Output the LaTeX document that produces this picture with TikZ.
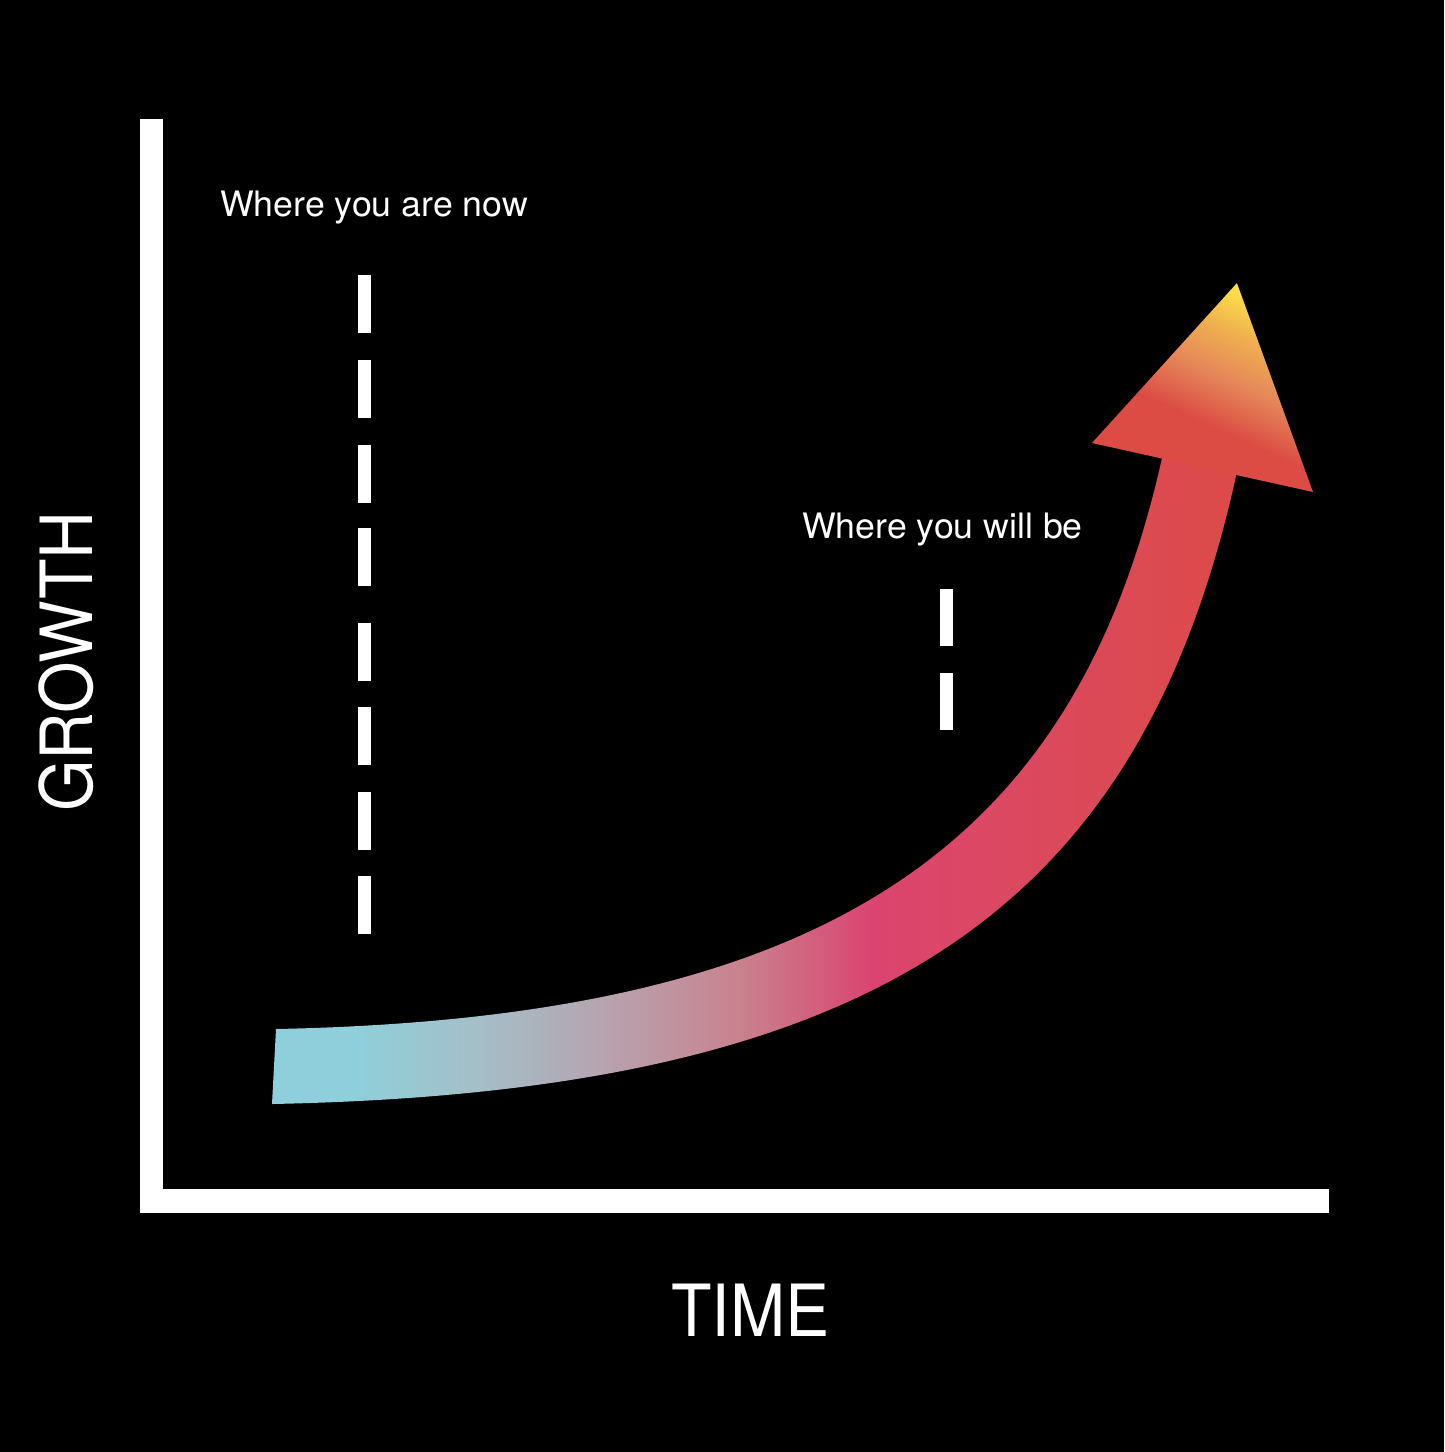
\documentclass[tikz,border=0pt]{standalone}
\usepackage{fontspec}
\setmainfont{TeX Gyre Heros}
\usepackage{graphicx}
\usepackage{tikz}
\definecolor{growCyan}{HTML}{8ECFDB}
\definecolor{growCyanGray}{HTML}{A4BFC8}
\definecolor{growGray}{HTML}{B6A4B0}
\definecolor{growRose}{HTML}{C8838F}
\definecolor{growMagenta}{HTML}{DB4470}
\definecolor{growPink}{HTML}{DB4862}
\definecolor{growRed}{HTML}{DC4B48}
\definecolor{headRed}{HTML}{DC4C44}
\definecolor{headOrange}{HTML}{E6885A}
\definecolor{headAmber}{HTML}{EFAE50}
\definecolor{headYellow}{HTML}{FBDD4A}
\pgfdeclarehorizontalshading{shaftshade}{100bp}{%
  color(0bp)=(growCyan); color(25bp)=(growCyan); color(29bp)=(growCyan);
  color(35.5bp)=(growCyanGray); color(42bp)=(growGray);
  color(49bp)=(growRose); color(56bp)=(growMagenta);
  color(62.5bp)=(growPink); color(75bp)=(growRed); color(100bp)=(growRed)}
\pgfdeclareverticalshading{headshade}{100bp}{%
  color(0bp)=(headRed); color(25bp)=(headRed); color(37bp)=(headRed);
  color(50bp)=(headOrange); color(61bp)=(headAmber);
  color(71bp)=(headYellow); color(100bp)=(headYellow)}
\tikzset{
  axis bar/.style={fill=white},
  guide dash/.style={fill=white},
  note label/.style={text=white, inner sep=0pt,
    font=\fontsize{35}{40}\selectfont},
  axis title/.style={text=white, inner sep=0pt,
    font=\fontsize{72}{80}\selectfont}
}

\begin{document}
\begin{tikzpicture}[x=1pt, y=-1pt]
  \useasboundingbox (0,0) rectangle (1444,1452);
  \fill[black] (0,0) rectangle (1444,1452);
  % axes
  \fill[axis bar] (140,119) rectangle (163,1213);
  \fill[axis bar] (140,1189) rectangle (1329,1213);
  \node[axis title, rotate=90, anchor=base west] (growth) at (92,812)
    {\scalebox{0.92}[1]{GROWTH}};
  \node[axis title, anchor=base west] (time) at (671,1336)
    {\scalebox{0.92}[1]{TIME}};
  % markers
  \node[note label, anchor=base west] (now) at (220,216)
    {\scalebox{1.02}[1]{Where you are now}};
  \foreach \ya in {275,360,445,528,623,707,792,876}
    \fill[guide dash] (358,\ya) rectangle ++(13,58);
  \node[note label, anchor=base west] (later) at (802,538)
    {\scalebox{1.02}[1]{Where you will be}};
  \foreach \ya in {589,673}
    \fill[guide dash] (940,\ya) rectangle ++(12.7,57);
  % growth arrow
  \shade[shading=shaftshade] (276,1029) .. controls (826,1018) and (1075,848)
    .. (1162,458) -- (1166,438.5) -- (1240,456.5) -- (1236,476)
    .. controls (1139,915) and (872,1092) .. (272,1104) -- cycle;
  \begin{scope}[transform canvas={shift={(1202.5,467.5)}, rotate=-12.5}]
    \shade[shading=headshade, shading angle=-12]
      (-113.2,0) -- (-6.3,-187.5) -- (113.2,0) -- cycle;
  \end{scope}
\end{tikzpicture}
\end{document}
